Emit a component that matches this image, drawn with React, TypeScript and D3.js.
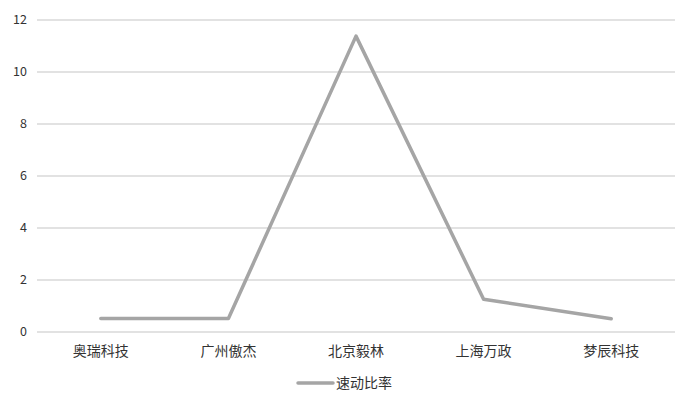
import * as d3 from "d3";

const categories = ["奥瑞科技", "广州傲杰", "北京毅林", "上海万政", "梦辰科技"];
const quickRatio = [0.52, 0.52, 11.38, 1.26, 0.51];
const yTicks = [0, 2, 4, 6, 8, 10, 12];
const seriesName = "速动比率";

const W = 690;
const H = 406;
const FONT = "'Noto Sans CJK SC', 'Noto Sans', sans-serif";
const LINE = "#A5A5A5";
const GRID = "#D9D9D9";
const TEXT = "#333333";

export default function App() {
  const margin = { left: 37, right: 15, top: 20, bottom: 74 };
  const x = d3
    .scaleBand<string>()
    .domain(categories)
    .range([margin.left, W - margin.right]);
  const y = d3.scaleLinear().domain([0, 12]).range([H - margin.bottom, margin.top]);

  const line = d3
    .line<number>()
    .x((_, i) => (x(categories[i]) ?? 0) + x.bandwidth() / 2)
    .y((d) => y(d));

  return (
    <svg
      width={W}
      height={H}
      style={{ position: "absolute", left: 0, top: 0, background: "#fff" }}
      fontFamily={FONT}
    >
      {yTicks.map((t) => (
        <g key={t}>
          <line
            x1={margin.left}
            x2={W - margin.right}
            y1={y(t)}
            y2={y(t)}
            stroke={GRID}
            strokeWidth={1.3}
          />
          <text
            x={27}
            y={y(t)}
            dy="0.35em"
            textAnchor="end"
            fontSize={12.5}
            fill={TEXT}
          >
            {t}
          </text>
        </g>
      ))}
      {categories.map((c) => (
        <text
          key={c}
          x={(x(c) ?? 0) + x.bandwidth() / 2}
          y={351}
          dy="0.35em"
          textAnchor="middle"
          fontSize={14}
          fill={TEXT}
        >
          {c}
        </text>
      ))}
      <path
        d={line(quickRatio) ?? ""}
        fill="none"
        stroke={LINE}
        strokeWidth={3.5}
        strokeLinejoin="round"
        strokeLinecap="round"
      />
      <g>
        <line x1={298} x2={333} y1={383} y2={383} stroke={LINE} strokeWidth={3.5} strokeLinecap="round" />
        <text x={336} y={383} dy="0.35em" fontSize={14} fill={TEXT}>
          {seriesName}
        </text>
      </g>
    </svg>
  );
}
